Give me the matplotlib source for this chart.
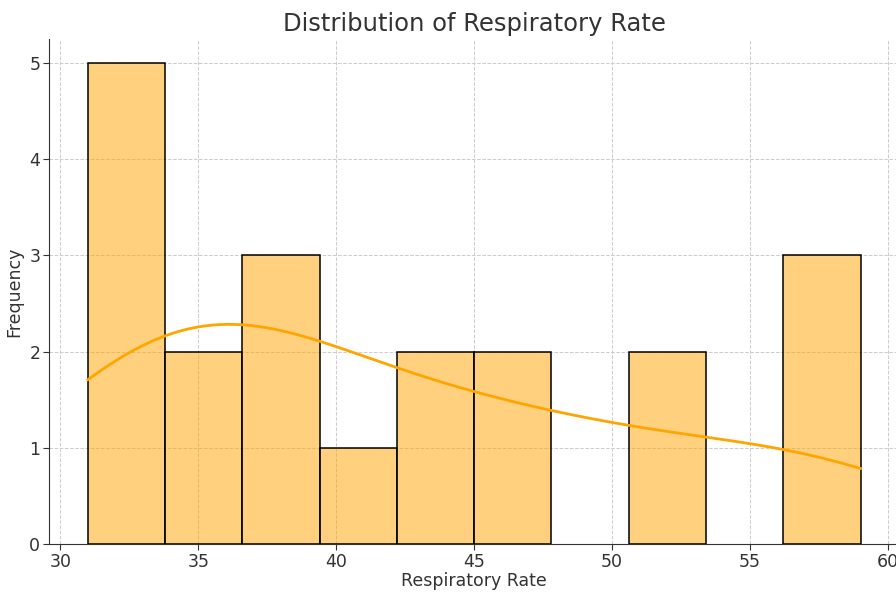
import matplotlib
matplotlib.use("Agg")
import matplotlib.pyplot as plt
import seaborn as sns
import numpy as np

# respiratory rate readings (20 patients)
resp_rate = [31, 32, 32, 33, 33.5,
             35, 36,
             37, 38, 38,
             40,
             43, 44,
             46, 47,
             51, 51,
             57, 57, 59]
n_bins = 10

plt.rcParams["font.family"] = ["DejaVu Sans"]
text_color = "#333333"

fig = plt.figure(figsize=(8.96, 5.94), dpi=100)
ax = fig.add_axes([0.055, 0.0842, 0.9485, 0.8501])

sns.histplot(resp_rate, bins=n_bins, kde=True, color="orange", alpha=0.5,
             edgecolor="black", linewidth=1.1, ax=ax,
             line_kws={"linewidth": 2})

# empty bins draw a flat black edge on the axis, drop them
for p in ax.patches:
    if p.get_height() == 0:
        p.set_visible(False)

ax.set_title("Distribution of Respiratory Rate", fontsize=17.5, color=text_color)
ax.set_xlabel("Respiratory Rate", fontsize=12.5, color=text_color, labelpad=1)
ax.set_ylabel("Frequency", fontsize=12.5, color=text_color)
ax.tick_params(labelsize=12.5, colors=text_color, length=4, pad=2.5)
ax.grid(True, linestyle="--", color="#cccccc", linewidth=0.7)
ax.set_axisbelow(True)
for side in ["top", "right"]:
    ax.spines[side].set_visible(False)
for side in ["left", "bottom"]:
    ax.spines[side].set_color(text_color)

fig.savefig("out.png", dpi=100)
